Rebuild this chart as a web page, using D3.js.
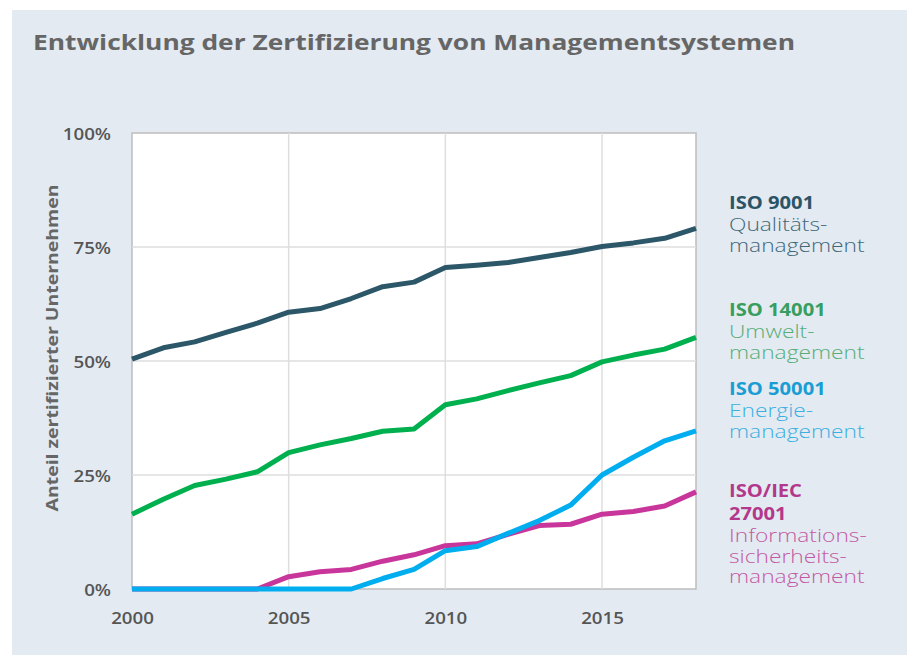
<!DOCTYPE html>
<html>
<head>
<meta charset="utf-8">
<script src="https://cdn.jsdelivr.net/npm/d3@7"></script>
<style>
  body { margin: 0; background: #fff; }
  text { font-family: "Open Sans", "DejaVu Sans", sans-serif; }
</style>
</head>
<body>
<div id="chart"></div>
<script>
// values, share of certified companies in %
const years = d3.range(2000, 2019);
const iso9001 = [50.4, 52.9, 54.2, 56.3, 58.3, 60.7, 61.5, 63.7, 66.3, 67.3, 70.5, 71.0, 71.6, 72.7, 73.8, 75.1, 75.9, 76.9, 79.1];
const iso14001 = [16.4, 19.7, 22.7, 24.1, 25.7, 29.9, 31.6, 33.0, 34.6, 35.1, 40.4, 41.7, 43.5, 45.2, 46.8, 49.8, 51.3, 52.6, 55.2];
const iso27001 = [0, 0, 0, 0, 0, 2.7, 3.8, 4.3, 6.1, 7.5, 9.5, 9.9, 12.0, 13.9, 14.2, 16.4, 17.0, 18.2, 21.3];
const iso50001 = [0, 0, 0, 0, 0, 0, 0, 0, 2.3, 4.3, 8.4, 9.3, 12.2, 15.0, 18.4, 25.0, 28.9, 32.5, 34.7];
const yTicks = [0, 25, 50, 75, 100];
const xTicks = [2000, 2005, 2010, 2015];

const series = [
  { values: iso9001, color: "#2c5769", head: ["ISO 9001"], body: ["Qualitäts-", "management"], headColor: "#2b5466", bodyColor: "#3f6878" },
  { values: iso14001, color: "#00b04f", head: ["ISO 14001"], body: ["Umwelt-", "management"], headColor: "#389e5e", bodyColor: "#56ad77" },
  { values: iso27001, color: "#c9369b", head: ["ISO/IEC", "27001"], body: ["Informations-", "sicherheits-", "management"], headColor: "#b3388b", bodyColor: "#c25aa3" },
  { values: iso50001, color: "#00adef", head: ["ISO 50001"], body: ["Energie-", "management"], headColor: "#1a9dd3", bodyColor: "#3aafe0" }
];
// legend baselines (first line)
const legendY = { "ISO 9001": 209, "ISO 14001": 316, "ISO 50001": 395, "ISO/IEC": 497 };

const width = 909, height = 655;
const margin = { top: 133, right: 213, bottom: 66, left: 132 };

// widen open sans a bit so it takes the room of the wider original font
function stretch(sel, k) {
  sel.each(function () {
    const w = this.getComputedTextLength();
    d3.select(this).attr("textLength", w * k).attr("lengthAdjust", "spacingAndGlyphs");
  });
}

const svg = d3.select("#chart").append("svg")
  .attr("width", width)
  .attr("height", height);

svg.append("rect")
  .attr("x", 12).attr("y", 10)
  .attr("width", 895).attr("height", 645)
  .attr("fill", "#e3eaf2");

svg.append("text")
  .attr("x", 33).attr("y", 50)
  .attr("font-size", 22).attr("font-weight", 700)
  .attr("fill", "#666")
  .attr("textLength", 762).attr("lengthAdjust", "spacingAndGlyphs")
  .text("Entwicklung der Zertifizierung von Managementsystemen");

const x = d3.scaleLinear()
  .domain([2000, 2018])
  .range([margin.left, width - margin.right]);

const y = d3.scaleLinear()
  .domain([0, 100])
  .range([height - margin.bottom, margin.top]);

svg.append("rect")
  .attr("x", x(2000)).attr("y", y(100))
  .attr("width", x(2018) - x(2000)).attr("height", y(0) - y(100))
  .attr("fill", "#fff")
  .attr("stroke", "#bdbdbd").attr("stroke-width", 1.5);

// grid
svg.append("g")
  .attr("stroke", "#dedede").attr("stroke-width", 1.5)
  .selectAll("line")
  .data(yTicks.slice(1, -1))
  .join("line")
    .attr("x1", x(2000)).attr("x2", x(2018))
    .attr("y1", d => y(d)).attr("y2", d => y(d));

svg.append("g")
  .attr("stroke", "#dedede").attr("stroke-width", 1.5)
  .selectAll("line")
  .data(xTicks.slice(1))
  .join("line")
    .attr("x1", d => x(d)).attr("x2", d => x(d))
    .attr("y1", y(0)).attr("y2", y(100));

function yAxis(g) {
  g.attr("transform", `translate(${margin.left - 21}, 0)`)
    .call(d3.axisLeft(y).tickValues(yTicks).tickSize(0).tickPadding(0).tickFormat(d => d + "%"));
  g.select(".domain").remove();
  g.selectAll("text")
    .attr("font-size", 17).attr("font-weight", 600)
    .attr("fill", "#555").attr("dy", "0.36em")
    .call(stretch, 1.1);
}

function xAxis(g) {
  g.attr("transform", `translate(0, ${height - margin.bottom})`)
    .call(d3.axisBottom(x).tickValues(xTicks).tickSize(0).tickPadding(0).tickFormat(d3.format("d")));
  g.select(".domain").remove();
  g.selectAll("text")
    .attr("font-size", 17).attr("font-weight", 600)
    .attr("fill", "#555").attr("dy", "35px")
    .call(stretch, 1.1);
}

svg.append("g").call(yAxis);
svg.append("g").call(xAxis);

svg.append("text")
  .attr("transform", `translate(58, 348) rotate(-90)`)
  .attr("text-anchor", "middle")
  .attr("font-size", 16).attr("font-weight", 700)
  .attr("fill", "#666")
  .attr("textLength", 327).attr("lengthAdjust", "spacingAndGlyphs")
  .text("Anteil zertifizierter Unternehmen");

const line = d3.line()
  .x((d, i) => x(years[i]))
  .y(d => y(d));

svg.append("g")
  .attr("fill", "none")
  .attr("stroke-width", 5)
  .attr("stroke-linejoin", "round")
  .selectAll("path")
  .data(series)
  .join("path")
    .attr("stroke", d => d.color)
    .attr("d", d => line(d.values));

// labels on the right
const legend = svg.append("g");
for (const s of series) {
  let by = legendY[s.head[0]];
  s.head.forEach((h, i) => {
    legend.append("text").attr("x", 729).attr("y", by)
      .attr("font-size", 18).attr("font-weight", 700)
      .attr("fill", s.headColor).text(h)
      .call(stretch, 1.12);
    if (i < s.head.length - 1) by += 23;
  });
  by += 22;
  s.body.forEach(b => {
    legend.append("text").attr("x", 729).attr("y", by)
      .attr("font-size", 17.5).attr("font-weight", 300)
      .attr("fill", s.bodyColor).text(b)
      .call(stretch, 1.3);
    by += 20.5;
  });
}
</script>
</body>
</html>
